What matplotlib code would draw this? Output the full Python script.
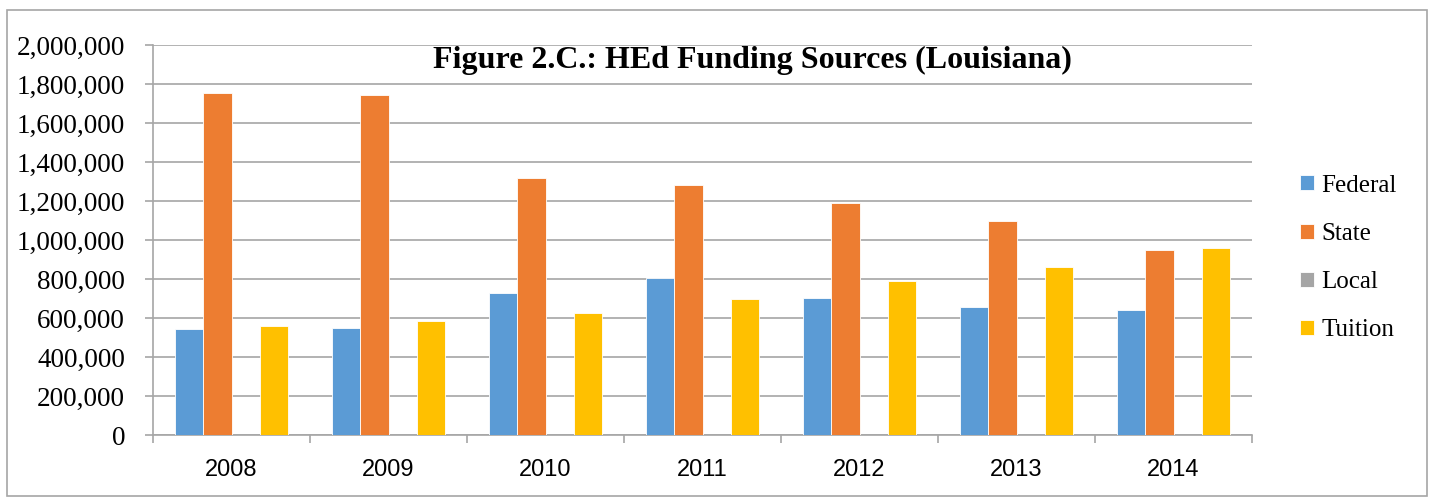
import numpy as np
import matplotlib
matplotlib.use("Agg")
from matplotlib import pyplot as plt
from matplotlib.patches import Rectangle
from matplotlib.ticker import FuncFormatter, FixedLocator

years = ['2008', '2009', '2010', '2011', '2012', '2013', '2014']
federal = [543000, 549000, 728000, 805000, 703000, 656000, 641000]
state = [1754000, 1744000, 1318000, 1283000, 1190000, 1099000, 949000]
local = [0, 0, 0, 0, 0, 0, 0]
tuition = [559000, 585000, 626000, 697000, 790000, 863000, 959000]

series = [('Federal', federal, '#5b9bd5'),
          ('State', state, '#ed7d31'),
          ('Local', local, '#a5a5a5'),
          ('Tuition', tuition, '#ffc000')]

fig = plt.figure(figsize=(14.34, 4.98), dpi=100)
ax = fig.add_axes([153 / 1434, 1 - 435 / 498, (1252 - 153) / 1434, (435 - 45) / 498])

# outer chart border
fig.patches.append(Rectangle((7 / 1434, 2 / 498), 1420 / 1434, 486 / 498,
                             transform=fig.transFigure, fill=False,
                             edgecolor='#a6a6a6', linewidth=1.2))

x = np.arange(len(years))
w = 0.18
for i, (name, vals, col) in enumerate(series):
    ax.bar(x + (i - 1.5) * w, vals, w, color=col, label=name,
           edgecolor='white', linewidth=0.6, zorder=3)

ax.set_xlim(-0.5, len(years) - 0.5)
ax.set_ylim(0, 2000000)
ax.set_yticks(np.arange(0, 2000001, 200000))
ax.yaxis.set_major_formatter(FuncFormatter(lambda v, p: f'{int(v):,}'))
ax.grid(axis='y', color='#a6a6a6', linewidth=1.2, zorder=0)

ax.set_xticks(x)
ax.set_xticklabels(years, fontsize=17, family='Liberation Sans')
ax.xaxis.set_minor_locator(FixedLocator(np.arange(-0.5, len(years) + 0.5, 1)))
ax.tick_params(axis='x', which='major', length=0, pad=17)
ax.tick_params(axis='x', which='minor', length=6, color='#a6a6a6', width=1.2)
ax.tick_params(axis='y', length=6, color='#a6a6a6', width=1.2, pad=14)
for lab in ax.get_yticklabels():
    lab.set_family('Liberation Serif')
    lab.set_fontsize(19.5)

for s in ['top', 'right']:
    ax.spines[s].set_visible(False)
for s in ['left', 'bottom']:
    ax.spines[s].set_color('#a6a6a6')
    ax.spines[s].set_linewidth(1.2)

fig.text(752 / 1434, 1 - 60 / 498, 'Figure 2.C.: HEd Funding Sources (Louisiana)',
         ha='center', va='center', fontsize=23, fontweight='bold',
         family='Liberation Serif')

ax.legend(loc='center left', bbox_to_anchor=(1252 / 1434 + 0.018, 1 - 258 / 498),
          bbox_transform=fig.transFigure, frameon=False,
          prop={'family': 'Liberation Serif', 'size': 18},
          handlelength=0.55, handleheight=0.55, handletextpad=0.3, labelspacing=1.05)

plt.savefig('out.png', dpi=100)
